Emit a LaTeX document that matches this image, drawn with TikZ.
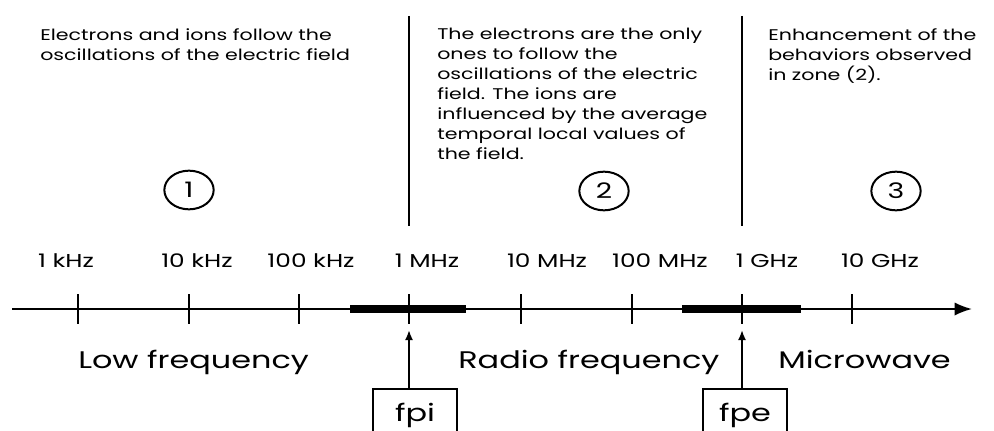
\documentclass[tikz,border=0pt]{standalone}
\usepackage{fontspec}
\setmainfont{Poppins}[FakeStretch=1.33]
\usetikzlibrary{arrows.meta, positioning, shapes.geometric}

\begin{document}
\begin{tikzpicture}[x=0.75pt, y=-0.75pt,
      zone/.style={align=left, anchor=north west, inner sep=0pt,
                   font=\fontsize{11.6}{15}\selectfont},
      num/.style={draw, ellipse, line width=1.5pt, minimum width=37pt,
                  minimum height=29pt, inner sep=0pt, font=\fontsize{16}{16}\selectfont},
      freq/.style={anchor=base, inner sep=0pt, font=\fontsize{14}{14}\selectfont},
      band/.style={anchor=base west, inner sep=0pt, font=\fontsize{18}{18}\selectfont},
      plasma/.style={draw, line width=2pt, minimum width=63pt,
                     minimum height=39pt, font=\fontsize{18}{18}\selectfont},
      arrow/.style={-{Latex[length=7.5pt, width=6pt]}, line width=1.4pt} ]
    \useasboundingbox (0,0) rectangle (994,431);

    % zones
    \draw[line width=1.8pt] (409,16) -- (409,226);
    \draw[line width=1.8pt] (742,16) -- (742,226);
    \node[zone] (txt1) at (40,28) {Electrons and ions follow the\\
      oscillations of the electric field};
    \node[zone] (txt2) at (437,28) {The electrons are the only\\ ones to follow the\\
      oscillations of the electric\\ field. The ions are\\
      influenced by the average\\ temporal local values of\\ the field.};
    \node[zone] (txt3) at (768,28) {Enhancement of the\\ behaviors observed\\ in zone (2).};
    \node[num] (z1) at (189,190) {1};
    \node[num] (z2) at (604,191) {2};
    \node[num] (z3) at (896,191) {3};

    % frequency axis
    \coordinate (start) at (12,309);
    \coordinate (end) at (972,309);
    \draw[line width=6pt] (350,309) -- (466,309);
    \draw[line width=6pt] (682,309) -- (801,309);
    \draw[-{Latex[length=13pt, width=10pt]}, line width=1.6pt] (start) -- (end);
    \foreach \x/\lx/\lab in {78/66/1 kHz, 189/197/10 kHz, 299/311/100 kHz,
                            409/427/1 MHz, 521/547/10 MHz, 632/660/100 MHz,
                            742/767/1 GHz, 852/880/10 GHz} {
      \draw[line width=1.4pt] (\x,294) -- (\x,324);
      \node[freq] at (\lx,267) {\lab};
    }
    \coordinate (pi) at (409,330);
    \coordinate (pe) at (742,330);

    \node[band] (low)   at (78,368)  {Low frequency};
    \node[band] (radio) at (458,368) {Radio frequency};
    \node[band] (micro) at (778,368) {Microwave};

    \node[plasma] (fpi) at (415,415) {fpi};
    \node[plasma] (fpe) at (745,415) {fpe};
    \draw[arrow] (fpi.north -| pi) -- (pi);
    \draw[arrow] (fpe.north -| pe) -- (pe);
  \end{tikzpicture}
\end{document}
